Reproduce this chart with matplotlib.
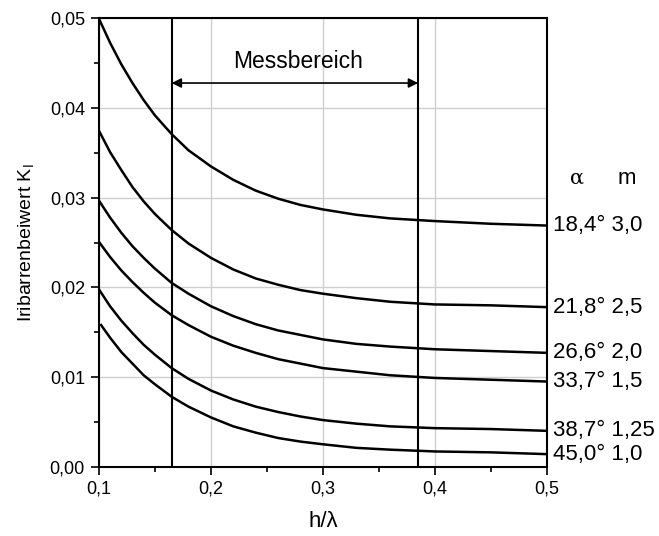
import matplotlib
matplotlib.use("Agg")
import matplotlib.pyplot as plt
from matplotlib.ticker import MultipleLocator

plt.rcParams['font.family'] = ['Liberation Sans', 'DejaVu Sans']

# h/lambda sample points
X = [0.1, 0.11, 0.12, 0.13, 0.14, 0.15, 0.165, 0.18, 0.2, 0.22, 0.24, 0.26,
     0.28, 0.3, 0.33, 0.36, 0.4, 0.45, 0.5]
# lowest curve starts a bit right of the axis
X6 = [0.102] + X[1:]

k_184 = [0.0500, 0.0473, 0.0449, 0.0428, 0.0409, 0.0392, 0.0371, 0.0353, 0.0335, 0.0320,
         0.0308, 0.0299, 0.0292, 0.0287, 0.0281, 0.0277, 0.0274, 0.0271, 0.0269]
k_218 = [0.0375, 0.0351, 0.0331, 0.0312, 0.0296, 0.0282, 0.0264, 0.0249, 0.0233, 0.0220,
         0.0210, 0.0203, 0.0197, 0.0193, 0.0188, 0.0184, 0.0181, 0.0180, 0.0178]
k_266 = [0.0297, 0.0278, 0.0261, 0.0246, 0.0233, 0.0221, 0.0205, 0.0193, 0.0179, 0.0168,
         0.0159, 0.0152, 0.0147, 0.0142, 0.0137, 0.0134, 0.0131, 0.0129, 0.0127]
k_337 = [0.0251, 0.0234, 0.0219, 0.0206, 0.0194, 0.0183, 0.0169, 0.0158, 0.0145, 0.0135,
         0.0127, 0.0120, 0.0115, 0.0110, 0.0106, 0.0102, 0.0099, 0.0097, 0.0095]
k_387 = [0.0198, 0.0179, 0.0163, 0.0149, 0.0136, 0.0125, 0.0110, 0.0098, 0.0085, 0.0075,
         0.0067, 0.0061, 0.0056, 0.0052, 0.0048, 0.0045, 0.0043, 0.0042, 0.0040]
k_450 = [0.0158, 0.0144, 0.0128, 0.0115, 0.0102, 0.0092, 0.0078, 0.0067, 0.0055, 0.0045,
         0.0038, 0.0032, 0.0028, 0.0025, 0.0021, 0.0019, 0.0017, 0.0016, 0.0014]

series = [k_184, k_218, k_266, k_337, k_387, k_450]
labels = ['18,4° 3,0', '21,8° 2,5', '26,6° 2,0', '33,7° 1,5', '38,7° 1,25', '45,0° 1,0']

range_lo, range_hi = 0.165, 0.385

fig = plt.figure(figsize=(6.59, 5.36), dpi=100)
ax = fig.add_axes([0.150, 0.1293, 0.680, 0.8362])

ax.grid(True, color='#cfcfcf', linewidth=1.0)
ax.set_axisbelow(True)

for i, ys in enumerate(series):
    xs = X6 if i == len(series) - 1 else X
    ax.plot(xs, ys, color='black', linewidth=1.8, solid_joinstyle='round')
    ax.text(0.5055, ys[-1], labels[i], fontsize=16, va='center', ha='left',
            clip_on=False)

# column header for the labels on the right
ax.text(0.527, 0.0322, 'α', fontsize=15, va='center', ha='center', family='DejaVu Serif')
ax.text(0.5717, 0.0322, 'm', fontsize=16, va='center', ha='center')

ax.axvline(range_lo, color='black', linewidth=1.5)
ax.axvline(range_hi, color='black', linewidth=1.5)
ax.annotate('', xy=(range_lo, 0.0428), xytext=(range_hi, 0.0428),
            arrowprops=dict(arrowstyle='<|-|>', color='black', linewidth=1.2,
                            mutation_scale=14, shrinkA=0, shrinkB=0))
ax.text((range_lo + range_hi) / 2 + 0.003, 0.0452, 'Messbereich', fontsize=16.5,
        ha='center', va='center')

ax.set_xlim(0.1, 0.5)
ax.set_ylim(0.0, 0.05)
ax.xaxis.set_minor_locator(MultipleLocator(0.05))
ax.yaxis.set_minor_locator(MultipleLocator(0.005))
ax.set_xticks([0.1, 0.2, 0.3, 0.4, 0.5])
ax.set_xticklabels(['0,1', '0,2', '0,3', '0,4', '0,5'])
ax.set_yticks([0.0, 0.01, 0.02, 0.03, 0.04, 0.05])
ax.set_yticklabels(['0,00', '0,01', '0,02', '0,03', '0,04', '0,05'])
ax.tick_params(which='major', direction='out', length=6, width=1.2, labelsize=13, pad=4)
ax.tick_params(which='minor', direction='out', length=3.6, width=1.2)

for sp in ax.spines.values():
    sp.set_linewidth(1.5)

ax.set_xlabel('h/λ', fontsize=16, labelpad=10)
ax.set_ylabel('Iribarrenbeiwert K$_\\mathregular{I}$', fontsize=14, labelpad=9)

fig.savefig('out.png', dpi=100)
